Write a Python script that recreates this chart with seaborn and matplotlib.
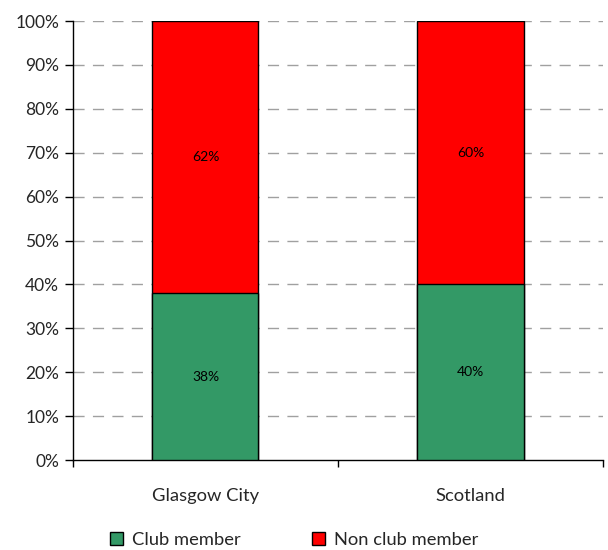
import matplotlib
matplotlib.use("Agg")
import matplotlib.pyplot as plt
from matplotlib.patches import Patch
from matplotlib.ticker import FixedLocator
import seaborn as sns
import pandas as pd

areas = ["Glasgow City", "Scotland"]
club_member = [38, 40]
non_club_member = [62, 60]
series_names = ["Club member", "Non club member"]
y_ticks = [0, 10, 20, 30, 40, 50, 60, 70, 80, 90, 100]

green = "#339966"
red = "#ff0000"

sns.set_theme(style="white")
plt.rcParams["font.family"] = ["Lato", "DejaVu Sans"]

df = pd.DataFrame({
    "area": areas,
    "club": club_member,
    "non_club": non_club_member,
})
df["total"] = df["club"] + df["non_club"]

fig = plt.figure(figsize=(6.08, 5.5), dpi=100)
ax = fig.add_axes([0.12, 0.1636, 0.8718, 0.7982])

# dashed horizontal gridlines behind the bars
ax.set_axisbelow(True)
for v in y_ticks[1:]:
    ax.axhline(v, color="#a0a0a0", lw=1.0, ls=(0, (8, 6)), zorder=0)

# stacked columns: full height in red, club share in green on top
sns.barplot(data=df, x="area", y="total", color=red, width=0.4,
            edgecolor="black", linewidth=1.0, saturation=1, ax=ax, zorder=2)
sns.barplot(data=df, x="area", y="club", color=green, width=0.4,
            edgecolor="black", linewidth=1.0, saturation=1, ax=ax, zorder=3)

for i, (c, n) in enumerate(zip(club_member, non_club_member)):
    ax.text(i, c / 2, f"{c}%", ha="center", va="center", fontsize=10,
            color="black", zorder=4)
    ax.text(i, c + n / 2, f"{n}%", ha="center", va="center", fontsize=10,
            color="black", zorder=4)

ax.set_xlim(-0.5, 1.5)
ax.set_ylim(0, 100)
ax.set_yticks(y_ticks)
ax.set_yticklabels([f"{v}%" for v in y_ticks], fontsize=12.5)
ax.tick_params(axis="y", direction="out", length=6, width=1, color="black",
               left=True, pad=4)

# category boundaries carry the tick marks, names sit between them
ax.xaxis.set_major_locator(FixedLocator([-0.5, 0.5, 1.5]))
ax.set_xticklabels(["", "", ""])
ax.xaxis.set_minor_locator(FixedLocator([0, 1]))
ax.set_xticklabels(areas, minor=True, fontsize=13.2)
ax.tick_params(axis="x", which="major", direction="out", length=5, width=1,
               color="black", bottom=True)
ax.tick_params(axis="x", which="minor", length=0, pad=20)
ax.set_xlabel("")
ax.set_ylabel("")

for side in ["top", "right"]:
    ax.spines[side].set_visible(False)
for side in ["left", "bottom"]:
    ax.spines[side].set_color("black")
    ax.spines[side].set_linewidth(1)

handles = [Patch(facecolor=green, edgecolor="black", linewidth=1),
           Patch(facecolor=red, edgecolor="black", linewidth=1)]
fig.legend(handles, series_names, loc="center", bbox_to_anchor=(0.484, 0.018),
           ncol=2, frameon=False, fontsize=13.2, handlelength=0.7,
           handleheight=0.7, handletextpad=0.5, columnspacing=3.9)

fig.savefig("out.png", dpi=100)
